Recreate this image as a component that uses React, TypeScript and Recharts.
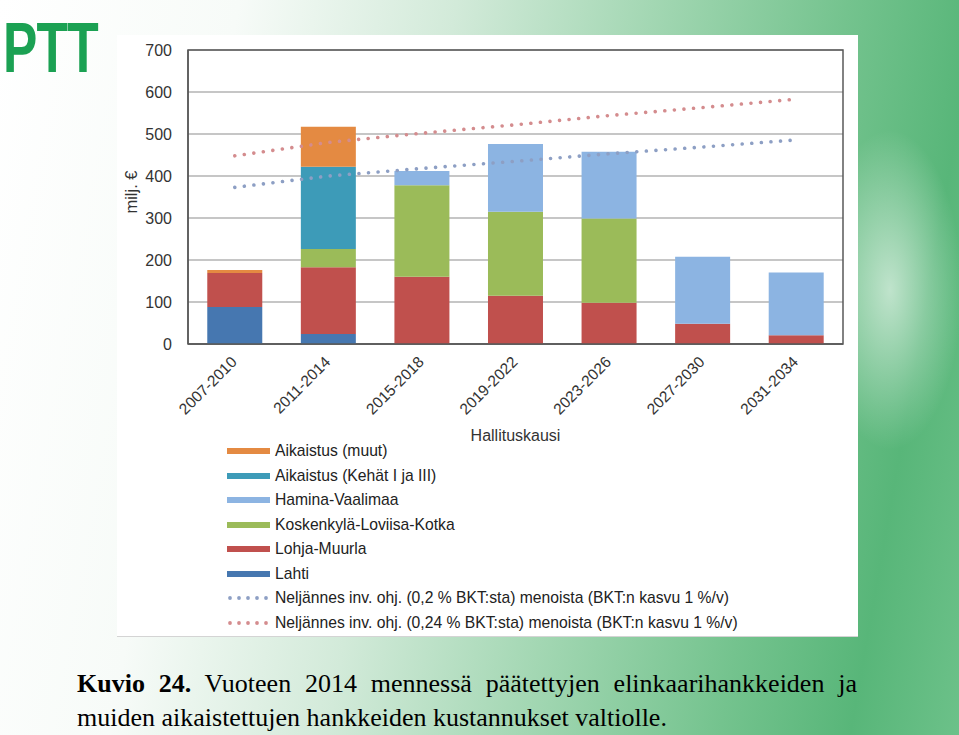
import React from 'react';
import {
  ComposedChart,
  Bar,
  Line,
  XAxis,
  YAxis,
  CartesianGrid,
  Legend,
  ReferenceArea,
} from 'recharts';

// ---- data ----
const categories = ['2007-2010', '2011-2014', '2015-2018', '2019-2022', '2023-2026', '2027-2030', '2031-2034'];
const lahti = [88, 24, 0, 0, 0, 0, 0];
const lohjaMuurla = [81, 159, 160, 115, 98, 48, 21];
const koskenkylaLoviisaKotka = [0, 43, 218, 200, 201, 0, 0];
const haminaVaalimaa = [0, 0, 34, 161, 159, 160, 149];
const aikaistusKehat = [0, 196, 0, 0, 0, 0, 0];
const aikaistusMuut = [7, 95, 0, 0, 0, 0, 0];
const neljannes02 = [373, 400, 418, 435, 453, 469, 486];
const neljannes024 = [448, 480, 502, 522, 544, 563, 583];
const yTicks = [0, 100, 200, 300, 400, 500, 600, 700];

const barSeries = [
  { key: 'lahti', name: 'Lahti', color: '#4677b0', values: lahti },
  { key: 'lohja', name: 'Lohja-Muurla', color: '#c0504d', values: lohjaMuurla },
  { key: 'kosken', name: 'Koskenkylä-Loviisa-Kotka', color: '#9bbb59', values: koskenkylaLoviisaKotka },
  { key: 'hamina', name: 'Hamina-Vaalimaa', color: '#8cb4e2', values: haminaVaalimaa },
  { key: 'kehat', name: 'Aikaistus (Kehät I ja III)', color: '#3d9bb8', values: aikaistusKehat },
  { key: 'muut', name: 'Aikaistus (muut)', color: '#e48a42', values: aikaistusMuut },
];
const lineSeries = [
  { key: 'n02', name: 'Neljännes inv. ohj. (0,2 % BKT:sta) menoista (BKT:n kasvu 1 %/v)', color: '#8d9fc4', values: neljannes02 },
  { key: 'n024', name: 'Neljännes inv. ohj. (0,24 % BKT:sta) menoista (BKT:n kasvu 1 %/v)', color: '#d48c8e', values: neljannes024 },
];

const data = categories.map((c, i) => {
  const row: Record<string, string | number> = { cat: c };
  barSeries.forEach((s) => (row[s.key] = s.values[i]));
  lineSeries.forEach((s) => (row[s.key] = s.values[i]));
  return row;
});

const SANS = '"Liberation Sans", Arial, sans-serif';
const SERIF = '"Liberation Serif", "Times New Roman", serif';

const XTick = (props: any) => {
  const { x, y, payload } = props;
  return (
    <text
      x={0}
      y={0}
      transform={`translate(${x + 3},${y + 19}) rotate(-45)`}
      textAnchor="end"
      fontSize={15.5}
      fill="#333"
      fontFamily={SANS}
    >
      {payload.value}
    </text>
  );
};

const XLabel = (props: any) => {
  const vb = props.viewBox || {};
  return (
    <text x={vb.x + vb.width / 2} y={vb.y + 97} textAnchor="middle" fontSize={16} fill="#333" fontFamily={SANS}>
      Hallituskausi
    </text>
  );
};

const YLabel = (props: any) => {
  const vb = props.viewBox || {};
  const cx = 14;
  const cy = vb.y + 142;
  return (
    <text
      x={cx}
      y={cy}
      transform={`rotate(-90 ${cx} ${cy})`}
      textAnchor="middle"
      dominantBaseline="central"
      fontSize={16.5}
      fill="#333"
      fontFamily={SANS}
    >
      milj. €
    </text>
  );
};

const legendItems = [
  ...[...barSeries].reverse().map((s) => ({ name: s.name, color: s.color, dotted: false })),
  ...lineSeries.map((s) => ({ name: s.name, color: s.color, dotted: true })),
];

const renderLegend = () => (
  <div style={{ fontFamily: SANS, fontSize: 15.7, color: '#222' }}>
    {legendItems.map((item) => (
      <div key={item.name} style={{ display: 'flex', alignItems: 'center', height: 24.5, whiteSpace: 'nowrap' }}>
        <svg width={48} height={10} style={{ flex: 'none' }}>
          {item.dotted ? (
            [0, 1, 2, 3, 4].map((k) => <circle key={k} cx={3 + k * 9} cy={5} r={1.9} fill={item.color} />)
          ) : (
            <rect x={0} y={2} width={43} height={6} fill={item.color} />
          )}
        </svg>
        <span>{item.name}</span>
      </div>
    ))}
  </div>
);

const Logo = () => (
  <svg width={160} height={100} style={{ position: 'absolute', left: 0, top: 0 }}>
    <g transform="translate(3,72) scale(0.735,1)">
      <text x={0} y={0} fontFamily={SANS} fontWeight={700} fontSize={70} fill="#1ba153" letterSpacing={-1}>
        PTT
      </text>
    </g>
  </svg>
);

export default function App() {
  return (
    <div
      style={{
        position: 'absolute',
        left: 0,
        top: 0,
        width: 959,
        height: 735,
        overflow: 'hidden',
        background:
          'radial-gradient(ellipse 90px 200px at 890px 290px, rgba(255,255,255,0.6), rgba(255,255,255,0) 80%), linear-gradient(100deg, #ffffff 0%, #f7fbf8 22%, #d2ead9 42%, #a3d7b3 60%, #74c38e 78%, #58b679 90%, #6cc189 100%)',
      }}
    >
      <Logo />
      <div
        style={{
          position: 'absolute',
          left: 117,
          top: 35,
          width: 741,
          height: 602,
          background: '#ffffff',
          boxSizing: 'border-box',
          borderBottom: '1px solid #d4d4d4',
        }}
      >
        <ComposedChart
          width={741}
          height={602}
          data={data}
          margin={{ top: 15, right: 15, left: 0, bottom: 0 }}
          barCategoryGap="20.6%"
        >
          <CartesianGrid horizontal vertical={false} stroke="#8e8e8e" strokeWidth={1.2} />
          <XAxis
            dataKey="cat"
            height={293}
            interval={0}
            tickSize={0}
            tickMargin={0}
            tick={<XTick />}
            axisLine={{ stroke: '#595959', strokeWidth: 1.5 }}
            tickLine={false}
            label={XLabel}
          />
          <YAxis
            width={71}
            domain={[0, 700]}
            ticks={yTicks}
            interval={0}
            tickSize={0}
            tickMargin={16}
            tickLine={false}
            axisLine={{ stroke: '#595959', strokeWidth: 1.5 }}
            tick={{ fontSize: 16, fill: '#333', fontFamily: SANS }}
            label={YLabel}
          />
          {barSeries.map((s) => (
            <Bar key={s.key} dataKey={s.key} name={s.name} stackId="a" fill={s.color} isAnimationActive={false} />
          ))}
          {lineSeries.map((s) => (
            <Line
              key={s.key}
              type="linear"
              dataKey={s.key}
              name={s.name}
              stroke={s.color}
              strokeWidth={3.6}
              strokeDasharray="0.01 9.6"
              strokeLinecap="round"
              dot={false}
              activeDot={false}
              isAnimationActive={false}
            />
          ))}
          <ReferenceArea y1={0} y2={700} fill="none" stroke="#595959" strokeWidth={1.5} ifOverflow="visible" />
          <Legend
            layout="vertical"
            align="center"
            verticalAlign="middle"
            content={renderLegend}
            wrapperStyle={{ left: 110, top: 404, width: 'auto' }}
          />
        </ComposedChart>
      </div>
      <div
        style={{
          position: 'absolute',
          left: 77,
          top: 671,
          width: 780,
          fontFamily: SERIF,
          fontSize: 26,
          lineHeight: '26px',
          color: '#000',
          textAlign: 'justify',
          textAlignLast: 'justify',
          whiteSpace: 'nowrap',
        }}
      >
        <span style={{ fontWeight: 700 }}>Kuvio 24.</span> Vuoteen 2014 mennessä päätettyjen elinkaarihankkeiden ja
      </div>
      <div
        style={{
          position: 'absolute',
          left: 77,
          top: 705,
          fontFamily: SERIF,
          fontSize: 26,
          lineHeight: '26px',
          color: '#000',
          whiteSpace: 'nowrap',
        }}
      >
        muiden aikaistettujen hankkeiden kustannukset valtiolle.
      </div>
    </div>
  );
}
